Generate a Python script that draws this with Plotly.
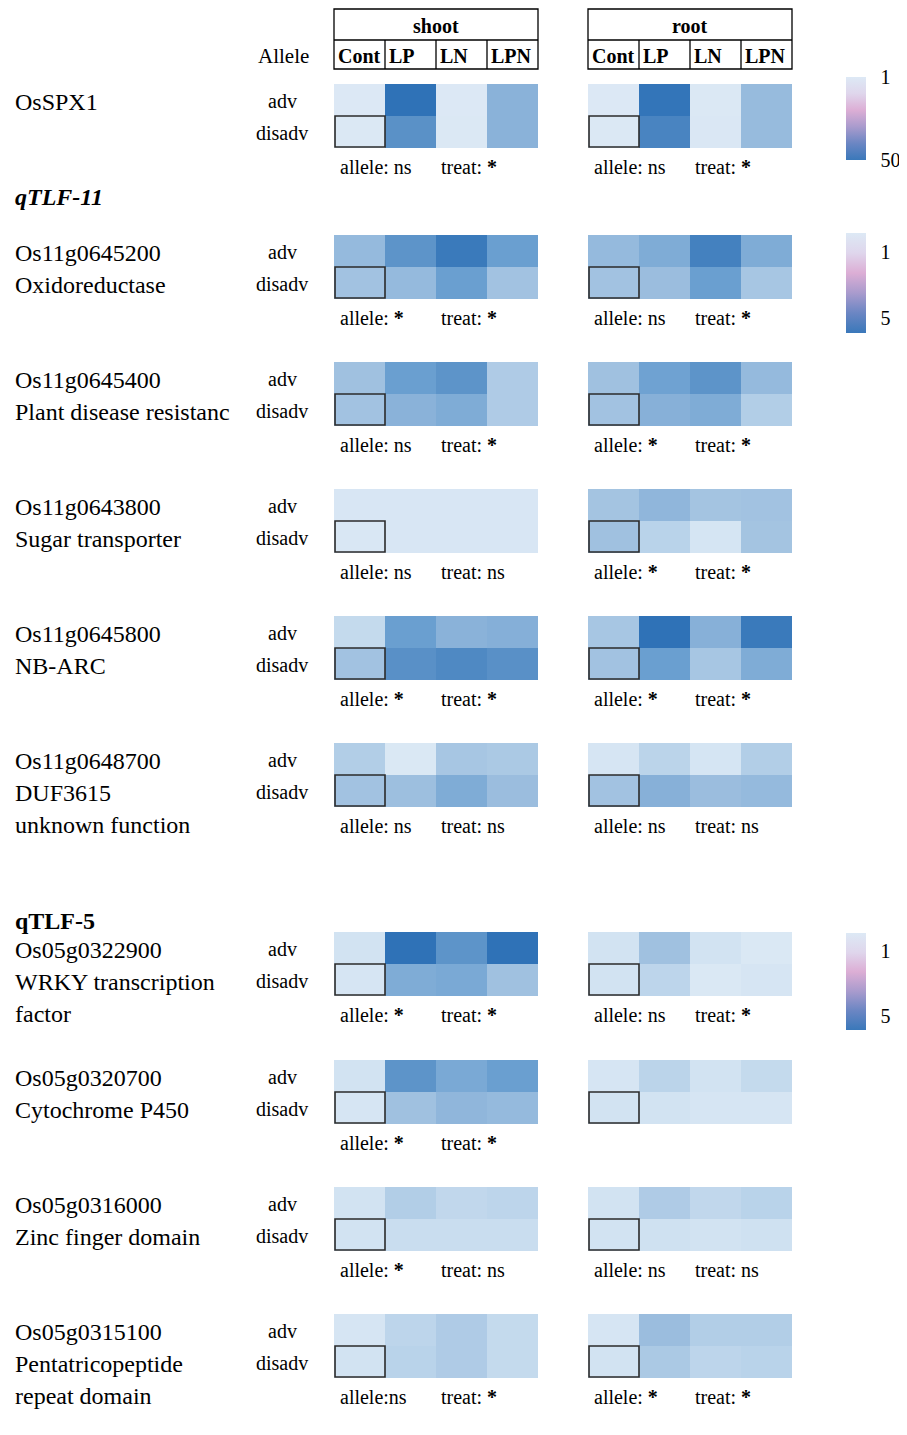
import plotly.graph_objects as go

OFF = 8  # browser body margin
W, H = 907 - OFF, 1435 - OFF
FONT = "Liberation Serif, Times New Roman, serif"

treatments = ["Cont", "LP", "LN", "LPN"]
alleles = ["adv", "disadv"]
tissues = ["shoot", "root"]

gene_ids = ["OsSPX1", "Os11g0645200", "Os11g0645400", "Os11g0643800", "Os11g0645800",
            "Os11g0648700", "Os05g0322900", "Os05g0320700", "Os05g0316000", "Os05g0315100"]
gene_desc = [[], ["Oxidoreductase"], ["Plant disease resistanc"], ["Sugar transporter"], ["NB-ARC"],
             ["DUF3615", "unknown function"], ["WRKY transcription", "factor"], ["Cytochrome P450"],
             ["Zinc finger domain"], ["Pentatricopeptide", "repeat domain"]]

# expression values (rows: adv, disadv; cols: Cont, LP, LN, LPN)
shoot_vals = [
    [[1.5, 50, 1.5, 28], [2, 40, 2, 28]],
    [[3.0, 4.1, 4.8, 3.8], [2.75, 3.0, 3.8, 2.75]],
    [[2.8, 3.8, 4.1, 2.4], [2.75, 3.2, 3.4, 2.4]],
    [[1.2, 1.2, 1.2, 1.2], [1.15, 1.2, 1.2, 1.2]],
    [[1.8, 3.8, 3.2, 3.3], [2.75, 4.2, 4.4, 4.2]],
    [[2.3, 1.1, 2.6, 2.5], [2.75, 2.85, 3.4, 2.9]],
    [[1.4, 5.0, 4.1, 5.0], [1.25, 3.4, 3.5, 2.8]],
    [[1.4, 4.1, 3.5, 3.8], [1.25, 2.8, 3.1, 3.0]],
    [[1.4, 2.3, 1.9, 2.0], [1.4, 1.65, 1.65, 1.65]],
    [[1.25, 2.0, 2.4, 1.8], [1.4, 2.1, 2.4, 1.8]],
]
root_vals = [
    [[1.5, 49, 2, 25], [2, 44, 2.5, 25]],
    [[3.0, 3.4, 4.6, 3.4], [2.75, 2.9, 3.8, 2.6]],
    [[2.8, 3.7, 4.1, 3.0], [2.75, 3.25, 3.4, 2.3]],
    [[2.7, 3.1, 2.7, 2.75], [2.8, 2.1, 1.3, 2.7]],
    [[2.6, 5.0, 3.25, 4.8], [2.75, 3.8, 2.6, 3.4]],
    [[1.25, 2.05, 1.3, 2.3], [2.75, 3.25, 2.9, 3.0]],
    [[1.4, 2.8, 1.4, 1.1], [1.4, 2.0, 1.1, 1.25]],
    [[1.25, 2.05, 1.4, 1.8], [1.4, 1.4, 1.25, 1.25]],
    [[1.4, 2.4, 1.9, 2.1], [1.4, 1.5, 1.4, 1.5]],
    [[1.25, 2.9, 2.3, 2.3], [1.4, 2.5, 2.0, 2.1]],
]
zmax_vals = [50, 5, 5, 5, 5, 5, 5, 5, 5, 5]

shoot_stats = [("allele: ns", "treat: *"), ("allele: *", "treat: *"), ("allele: ns", "treat: *"),
               ("allele: ns", "treat: ns"), ("allele: *", "treat: *"), ("allele: ns", "treat: ns"),
               ("allele: *", "treat: *"), ("allele: *", "treat: *"), ("allele: *", "treat: ns"),
               ("allele:ns", "treat: *")]
root_stats = [("allele: ns", "treat: *"), ("allele: ns", "treat: *"), ("allele: *", "treat: *"),
              ("allele: *", "treat: *"), ("allele: *", "treat: *"), ("allele: ns", "treat: ns"),
              ("allele: ns", "treat: *"), None, ("allele: ns", "treat: ns"), ("allele: *", "treat: *")]

sections = [("<b><i>qTLF-11</i></b>", 197), ("<b>qTLF-5</b>", 921)]

# colour bar legends: (min, max, ticks, top px, length px)
legend_bars = [(-50, -1, [-50, -1], 77, 83), (-5.9, 0.15, [-5, -1], 233, 100), (-5.9, 0.15, [-5, -1], 933, 97)]

# ---------------- layout constants ----------------
block_tops = [84, 235, 362, 489, 616, 743, 932, 1060, 1187, 1314]
BLOCK_H = 64
x_left = {"shoot": (334, 538), "root": (588, 792)}

cell_scale = [[0.0, "#dde9f5"], [0.1, "#d2e3f2"], [0.25, "#bdd5eb"], [0.45, "#a0c1e0"],
              [0.55, "#8ab2d9"], [0.7, "#6a9fd0"], [0.8, "#5990c7"], [1.0, "#2f72b7"]]
bar_scale = [[0.0, "#3a78ba"], [0.2, "#6b86c3"], [0.4, "#a99bcd"], [0.6, "#dcaed5"],
             [0.8, "#dfd6ec"], [1.0, "#dde9f5"]]


def px_x(p):
    return (p - OFF) / W


def px_y(p):
    return 1 - (p - OFF) / H


def fmt_stat(s):
    return s.replace("*", "<b>*</b>")


fig = go.Figure()
layout = dict(width=W, height=H, margin=dict(l=0, r=0, t=0, b=0),
              paper_bgcolor="white", plot_bgcolor="white", showlegend=False,
              font=dict(family=FONT, color="black", size=20))
shapes, annotations = [], []

# row centres in y-domain units (adv, disadv, third text line) and stats line
row_dom = [0.75, 0.25, -0.25]
stats_dom = -0.29

for g in range(len(gene_ids)):
    top = block_tops[g]
    for t, tissue in enumerate(tissues):
        n = 2 * g + t + 1
        sfx = "" if n == 1 else str(n)
        vals = shoot_vals[g] if tissue == "shoot" else root_vals[g]
        fig.add_trace(go.Heatmap(
            z=vals, x=treatments, y=alleles, colorscale=cell_scale,
            zmin=1, zmax=zmax_vals[g], showscale=False,
            xaxis="x" + sfx, yaxis="y" + sfx, hoverinfo="z"))
        x0, x1 = x_left[tissue]
        layout["xaxis" + sfx] = dict(domain=[px_x(x0), px_x(x1)], anchor="y" + sfx,
                                     visible=False, range=[-0.5, 3.5], fixedrange=True)
        layout["yaxis" + sfx] = dict(domain=[px_y(top + BLOCK_H), px_y(top)], anchor="x" + sfx,
                                     visible=False, range=[1.5, -0.5], fixedrange=True)
        # reference cell box (Cont, disadv)
        shapes.append(dict(type="rect", xref="x" + sfx, yref="y" + sfx,
                           x0=-0.48, x1=0.5, y0=0.5, y1=1.47,
                           line=dict(color="#2b2b2b", width=1.6)))
        stats = shoot_stats[g] if tissue == "shoot" else root_stats[g]
        if stats:
            for s, xd in zip(stats, [0.02, 0.515]):
                annotations.append(dict(text=fmt_stat(s), xref="x" + sfx + " domain",
                                        yref="y" + sfx + " domain",
                                        x=xd, y=stats_dom, xanchor="left", yanchor="middle",
                                        showarrow=False, font=dict(size=20)))
        if t == 0:
            lines = [gene_ids[g]] + gene_desc[g]
            for i, ln in enumerate(lines):
                annotations.append(dict(text=ln, xref="paper", yref="y" + sfx + " domain", x=px_x(13),
                                        y=row_dom[i] - 0.03, xanchor="left", yanchor="middle",
                                        showarrow=False, font=dict(size=24)))
            for i, a in enumerate(alleles):
                annotations.append(dict(text=a, xref="paper", yref="y" + sfx + " domain", x=px_x(282),
                                        y=row_dom[i] - 0.01, xanchor="center", yanchor="middle",
                                        showarrow=False, font=dict(size=20)))

# header tables
for t, tissue in enumerate(tissues):
    sfx = "" if t == 0 else "2"
    xr = "x" + sfx + " domain"
    shapes.append(dict(type="rect", xref=xr, yref="paper", x0=0, x1=1, y0=px_y(69), y1=px_y(9),
                       line=dict(color="black", width=1.3)))
    shapes.append(dict(type="line", xref=xr, yref="paper", x0=0, x1=1, y0=px_y(40), y1=px_y(40),
                       line=dict(color="black", width=1.3)))
    for k in range(1, 4):
        shapes.append(dict(type="line", xref=xr, yref="paper", x0=k / 4, x1=k / 4,
                           y0=px_y(69), y1=px_y(40), line=dict(color="black", width=1.3)))
    annotations.append(dict(text="<b>%s</b>" % tissue, xref=xr, yref="paper", x=0.5, y=px_y(26),
                            xanchor="center", yanchor="middle", showarrow=False, font=dict(size=20)))
    for k, tr in enumerate(treatments):
        annotations.append(dict(text="<b>%s</b>" % tr, xref=xr, yref="paper", x=k / 4 + 0.012,
                                y=px_y(56), xanchor="left", yanchor="middle", showarrow=False,
                                font=dict(size=20)))
annotations.append(dict(text="Allele", xref="paper", yref="paper", x=px_x(283), y=px_y(56),
                        xanchor="center", yanchor="middle", showarrow=False, font=dict(size=21)))

for txt, yp in sections:
    annotations.append(dict(text=txt, xref="paper", yref="paper", x=px_x(13), y=px_y(yp),
                            xanchor="left", yanchor="middle", showarrow=False, font=dict(size=24)))

# colour bar legends
for i, (cmin, cmax, ticks, top, length) in enumerate(legend_bars):
    sfx = str(21 + i)
    fig.add_trace(go.Scatter(
        x=[0, 0], y=[0, 0], mode="markers", xaxis="x" + sfx, yaxis="y" + sfx, hoverinfo="skip",
        marker=dict(size=0.1, opacity=0, color=[cmin, cmax], cmin=cmin, cmax=cmax,
                    colorscale=bar_scale, showscale=True,
                    colorbar=dict(x=px_x(846), xanchor="left", xpad=0, y=px_y(top), yanchor="top",
                                  ypad=0, len=length, lenmode="pixels", thickness=20,
                                  outlinewidth=0, tickvals=ticks, ticktext=[str(-v) for v in ticks],
                                  ticks="outside", ticklen=11, tickcolor="rgba(0,0,0,0)",
                                  tickfont=dict(family=FONT, size=20, color="black")))))
    layout["xaxis" + sfx] = dict(domain=[0, 0.01], anchor="y" + sfx, visible=False)
    layout["yaxis" + sfx] = dict(domain=[0, 0.01], anchor="x" + sfx, visible=False)

layout["shapes"] = shapes
layout["annotations"] = annotations
fig.update_layout(**layout)
fig.write_html("out.html")
